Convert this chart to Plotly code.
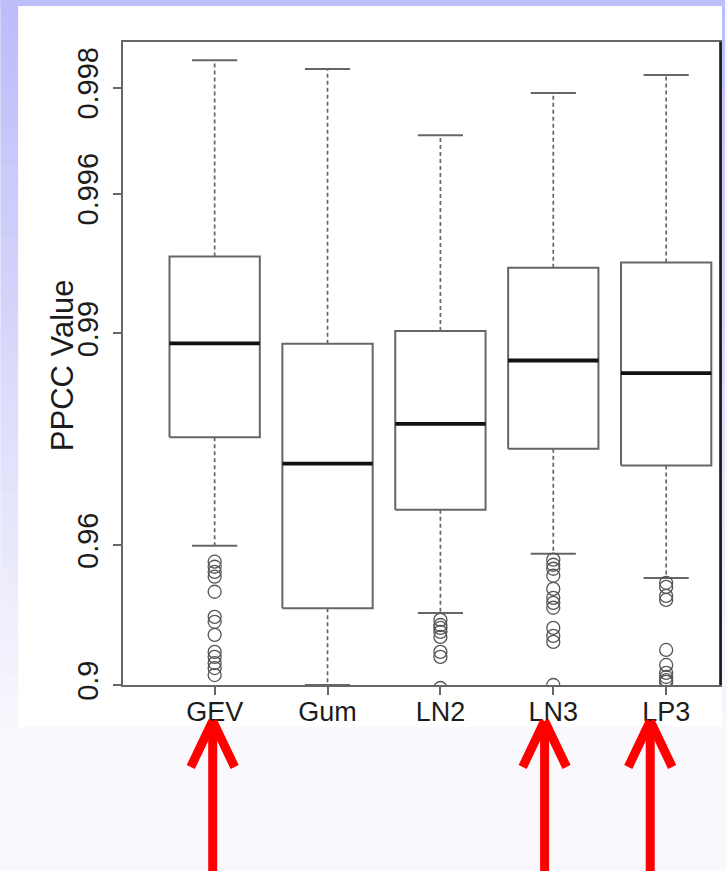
import numpy as np
import plotly.graph_objects as go

# PPCC summary statistics per distribution
models = ["GEV", "Gum", "LN2", "LN3", "LP3"]
upper_whisker = [0.99833, 0.99823, 0.99727, 0.99793, 0.99816]
q3 = [0.99396, 0.98930, 0.99015, 0.99350, 0.99371]
median = [0.98932, 0.97653, 0.98192, 0.98806, 0.98703]
q1 = [0.98026, 0.93954, 0.96826, 0.97870, 0.97623]
lower_whisker = [0.9598, 0.9000, 0.93764, 0.95766, 0.95034]

gev_outliers = [0.9554, 0.9539, 0.9523, 0.9508, 0.9457, 0.9360, 0.9339,
                0.9280, 0.9195, 0.9168, 0.9134, 0.9105, 0.9063]
gum_outliers = []
ln2_outliers = [0.9347, 0.9325, 0.9312, 0.9294, 0.9270, 0.9195, 0.9168, 0.898]
ln3_outliers = [0.9560, 0.9545, 0.9533, 0.9511, 0.9467, 0.9435, 0.9416,
                0.9397, 0.9312, 0.9275, 0.9246, 0.9000]
lp3_outliers = [0.9488, 0.9474, 0.9442, 0.9427, 0.9205, 0.9123, 0.9076,
                0.9051, 0.9032, 0.9020]

ytick_vals = [0.9, 0.96, 0.99, 0.996, 0.998]
ytick_text = ["0.9", "0.96", "0.99", "0.996", "0.998"]

# the PPCC axis is drawn on a log scale of (1 - PPCC), increasing upwards
def tail(v):
    return [1.0 - a for a in v]

pos = list(range(1, len(models) + 1))
half_box = 0.4
half_cap = 0.2

GRAY = "#666666"
TEXT = "#1c1c1c"
FONT = "Liberation Sans, Arial, sans-serif"

box_x, box_y = [], []
med_x, med_y = [], []
wh_x, wh_y = [], []
cap_x, cap_y = [], []
for p, lo, a, m, b, hi in zip(pos, tail(lower_whisker), tail(q1), tail(median),
                              tail(q3), tail(upper_whisker)):
    box_x += [p - half_box, p + half_box, p + half_box, p - half_box, p - half_box, None]
    box_y += [a, a, b, b, a, None]
    med_x += [p - half_box, p + half_box, None]
    med_y += [m, m, None]
    wh_x += [p, p, None, p, p, None]
    wh_y += [b, hi, None, a, lo, None]
    cap_x += [p - half_cap, p + half_cap, None, p - half_cap, p + half_cap, None]
    cap_y += [hi, hi, None, lo, lo, None]

out_x, out_y = [], []
for p, vals in zip(pos, [gev_outliers, gum_outliers, ln2_outliers,
                         ln3_outliers, lp3_outliers]):
    out_x += [p] * len(vals)
    out_y += tail(vals)

fig = go.Figure()
fig.add_trace(go.Scatter(x=wh_x, y=wh_y, mode="lines",
                         line=dict(color=GRAY, width=1.7, dash="4px,3px"),
                         hoverinfo="skip"))
fig.add_trace(go.Scatter(x=cap_x, y=cap_y, mode="lines",
                         line=dict(color=GRAY, width=2), hoverinfo="skip"))
fig.add_trace(go.Scatter(x=box_x, y=box_y, mode="lines",
                         line=dict(color=GRAY, width=2), hoverinfo="skip"))
fig.add_trace(go.Scatter(x=med_x, y=med_y, mode="lines",
                         line=dict(color="#111111", width=3.8), hoverinfo="skip"))
fig.add_trace(go.Scatter(x=out_x, y=out_y, mode="markers",
                         marker=dict(symbol="circle-open", size=13,
                                     color="#555555", line=dict(width=1.3))))

W, H = 727, 871
ML, MR, MT, MB = 123, 5, 42, 186
PW, PH = W - ML - MR, H - MT - MB


def px(x):
    return (x - ML) / PW


def py(y):
    return (H - MB - y) / PH


shapes = []
# slide-style backdrop: lavender strips fading downwards, white chart panel
top_c = np.array([188, 188, 250])
bot_c = np.array([247, 247, 253])
nb = 40
for i in range(nb):
    y0 = i * 730 / nb
    y1 = (i + 1) * 730 / nb + 0.6
    c = top_c + (bot_c - top_c) * (i / (nb - 1))
    col = "rgb(%d,%d,%d)" % tuple(c.round().astype(int))
    for xa, xb in [(0, 18), (724, W)]:
        shapes.append(dict(type="rect", xref="paper", yref="paper",
                           x0=px(xa), x1=px(xb), y0=py(y1), y1=py(y0),
                           fillcolor=col, line=dict(width=0), layer="below"))
shapes.append(dict(type="rect", xref="paper", yref="paper",
                   x0=px(0), x1=px(W), y0=py(6), y1=py(0),
                   fillcolor="rgb(190,190,251)", line=dict(width=0), layer="below"))
shapes.append(dict(type="rect", xref="paper", yref="paper",
                   x0=px(18), x1=px(724), y0=py(727), y1=py(6),
                   fillcolor="white", line=dict(width=0), layer="below"))
# darker right frame edge
shapes.append(dict(type="line", xref="paper", yref="paper",
                   x0=px(722.5), x1=px(722.5), y0=py(685), y1=py(42),
                   line=dict(color="#1a1a1a", width=2.6), layer="above"))

# red pointer arrows under the highlighted distributions
for tip in [213, 546, 652]:
    seg = [((tip, 721), (tip, 875)),
           ((tip, 721), (tip - 22, 767)),
           ((tip, 721), (tip + 22, 767))]
    for (xa, ya), (xb, yb) in seg:
        shapes.append(dict(type="line", xref="paper", yref="paper",
                           x0=px(xa), y0=py(ya), x1=px(xb), y1=py(yb),
                           line=dict(color="#ff0000", width=9), layer="above"))

fig.update_layout(
    width=W, height=H,
    margin=dict(l=ML, r=MR, t=MT, b=MB, pad=0),
    paper_bgcolor="rgb(248,248,253)",
    plot_bgcolor="white",
    showlegend=False,
    shapes=shapes,
    font=dict(family=FONT, color=TEXT),
    annotations=[dict(text="PPCC Value", xref="paper", yref="paper",
                      x=px(63), y=py(365), showarrow=False, textangle=-90,
                      font=dict(size=31, family=FONT, color=TEXT),
                      xanchor="center", yanchor="middle")],
)
fig.update_xaxes(
    range=[0.188, 5.477], tickvals=pos, ticktext=models,
    showgrid=False, zeroline=False,
    showline=True, linecolor=GRAY, linewidth=1.8, mirror=True,
    ticks="outside", ticklen=8, tickwidth=1.6, tickcolor=GRAY,
    ticklabelstandoff=-6,
    tickfont=dict(size=27, family=FONT, color=TEXT),
)
fig.update_yaxes(
    type="log", range=[np.log10(1 - 0.9), np.log10(0.001483)],
    tickvals=tail(ytick_vals), ticktext=ytick_text, tickangle=-90,
    showgrid=False, zeroline=False,
    showline=True, linecolor=GRAY, linewidth=1.8, mirror=True,
    ticks="outside", ticklen=8, tickwidth=1.6, tickcolor=GRAY,
    ticklabelstandoff=4,
    tickfont=dict(size=29, family=FONT, color=TEXT),
)

fig.write_html("out.html")
